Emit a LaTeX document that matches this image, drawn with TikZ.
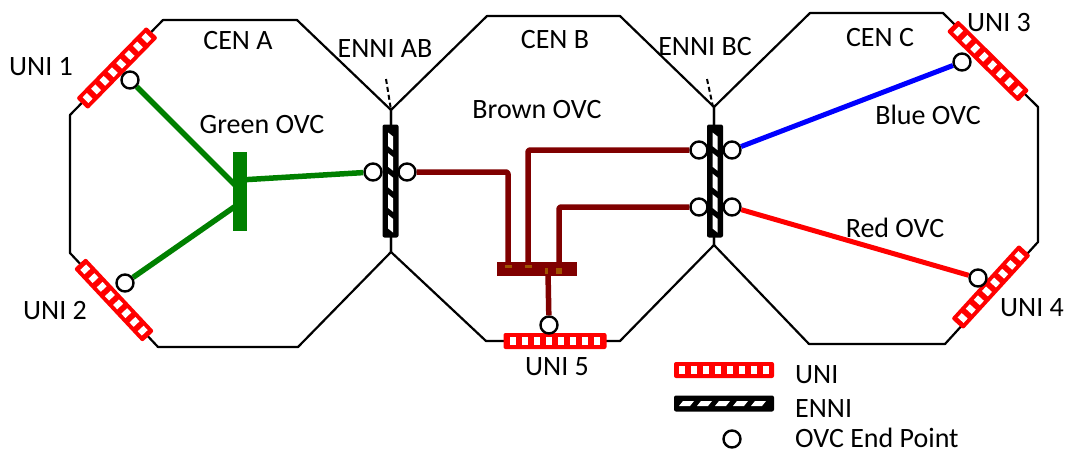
\documentclass[tikz,border=0pt]{standalone}
\usepackage{fontspec}
\setmainfont{Carlito}
\definecolor{ovcgreen}{RGB}{0,128,0}
\definecolor{ovcbrown}{RGB}{128,0,0}
\definecolor{ovcmark}{RGB}{160,82,0}
\newcommand\uniBox[4]{%
  \begin{scope}[shift={(#1,#2)},rotate=#3]
    \fill[red,rounded corners=2pt] (-#4/2,-8) rectangle (#4/2,8);
    \draw[white,line width=8pt,dash pattern=on 6pt off 6pt] (-45,0) -- (45,0);
  \end{scope}}
\newcommand\enniBox[4]{%
  \begin{scope}[shift={(#1,#2)},rotate=#3]
    \fill[black,rounded corners=2pt] (-#4/2,-8) rectangle (#4/2,8);
    \pgfmathsetmacro\enP{(#4-10)/5}
    \foreach \i in {0,...,4}{
      \pgfmathsetmacro\enS{-#4/2+5+\i*\enP}
      \fill[white] (\enS,2.5) -- ({\enS+\enP-7},2.5) -- ({\enS+\enP-3},-2.5) -- ({\enS+4},-2.5) -- cycle;
    }
  \end{scope}}
\begin{document}
\begin{tikzpicture}[x=1pt,y=-1pt,
  font=\fontsize{28}{32}\selectfont,
  oct/.style={draw=black,line width=2.2pt,line join=round},
  ep/.style={circle,draw=black,fill=white,line width=2.4pt,minimum size=17pt,inner sep=0pt},
  lbl/.style={inner sep=0pt},
  lgd/.style={inner sep=0pt,anchor=west},
  ovcline/.style={line width=5.5pt,line join=round,rounded corners=2pt},
  ennidash/.style={line width=2pt,dash pattern=on 5pt off 3pt}]
\useasboundingbox (0,0) rectangle (1065,455);
% octagons
\draw[oct] (163,20) -- (297,20) -- (391,110) -- (391,252) -- (298,347) -- (158,347) -- (70,253) -- (70,115) -- cycle;
\draw[oct] (487,16) -- (620,16) -- (714,107) -- (714,245) -- (620,341) -- (486,341) -- (391,252) -- (391,110) -- cycle;
\draw[oct] (810,13) -- (943,13) -- (1038,107) -- (1038,242) -- (945,344) -- (809,344) -- (714,245) -- (714,107) -- cycle;
% dashed ENNI pointers
\coordinate (abtop) at (386,79);
\coordinate (abv) at (391,110);
\coordinate (bctop) at (707,79);
\coordinate (bcv) at (713,107);
\draw[ennidash] (abtop) -- (abv);
\draw[ennidash] (bctop) -- (bcv);
% interfaces
\enniBox{390.5}{181}{90}{113}
\enniBox{715}{181}{90}{113}
\uniBox{117}{68}{45.6}{100}
\uniBox{114}{300}{-46.9}{100}
\uniBox{988}{61}{-44.7}{100}
\uniBox{991}{287}{47.6}{100}
\uniBox{555}{341}{0}{103}
% legend symbols
\uniBox{724}{370}{0}{100}
\enniBox{724}{403.5}{0}{100}
% end points
\node[ep] (u1e) at (130,80) {};
\node[ep] (u2e) at (125,283) {};
\node[ep] (abl) at (373,172) {};
\node[ep] (abr) at (407,172) {};
\node[ep] (bcl1) at (699,150) {};
\node[ep] (bcr1) at (732,150) {};
\node[ep] (bcl2) at (699,207) {};
\node[ep] (bcr2) at (732,207) {};
\node[ep] (u3e) at (962,62) {};
\node[ep] (u4e) at (978,278) {};
\node[ep] (u5e) at (549,325) {};
\node[ep] (lgep) at (732,439) {};
% green OVC
\node[fill=ovcgreen,minimum width=14pt,minimum height=79pt,inner sep=0pt] (gbar) at (240,191.5) {};
\coordinate (g1) at (240,190);
\coordinate (g2) at (240,203);
\coordinate (g3) at (240,180);
\draw[ovcgreen,ovcline] (u1e) -- (g1);
\draw[ovcgreen,ovcline] (u2e) -- (g2);
\draw[ovcgreen,ovcline] (g3) -- (abl);
% brown OVC
\node[fill=ovcbrown,minimum width=80pt,minimum height=14pt,inner sep=0pt] (bbar) at (537,269) {};
\coordinate (b1) at (508,266);
\coordinate (b2) at (528,266);
\coordinate (b3) at (559,266);
\coordinate (b4) at (548,272);
\draw[ovcbrown,ovcline] (abr) -| (b1);
\draw[ovcbrown,ovcline] (bcl1) -| (b2);
\draw[ovcbrown,ovcline] (bcl2) -| (b3);
\draw[ovcbrown,ovcline] (b4) -- (u5e);
\fill[ovcmark] (505,265) rectangle (512,268);
\fill[ovcmark] (525,265) rectangle (532,268);
\fill[ovcmark] (545,268) rectangle (548,274);
\fill[ovcmark] (556,268) rectangle (562,274);
% blue and red OVC
\draw[blue,line width=5pt] (bcr1) -- (u3e);
\draw[red,line width=5pt] (bcr2) -- (u4e);
% labels
\node[lbl] (tcena) at (238,41) {CEN A};
\node[lbl] (tcenb) at (555,40) {CEN B};
\node[lbl] (tcenc) at (880,38) {CEN C};
\node[lbl] (tab) at (385,49) {ENNI AB};
\node[lbl] (tbc) at (705,47) {ENNI BC};
\node[lbl] (tu1) at (41,67) {UNI 1};
\node[lbl] (tu2) at (55,311) {UNI 2};
\node[lbl] (tu3) at (999,23) {UNI 3};
\node[lbl] (tu4) at (1032,308) {UNI 4};
\node[lbl] (tu5) at (557,367) {UNI 5};
\node[lbl] (tgreen) at (262,125) {Green OVC};
\node[lbl] (tbrown) at (537,110) {Brown OVC};
\node[lbl] (tblue) at (928,115) {Blue OVC};
\node[lbl] (tred) at (895,228) {Red OVC};
\node[lgd] (lu) at (795,375) {UNI};
\node[lgd] (le) at (795,409) {ENNI};
\node[lgd] (lo) at (795,438) {OVC End Point};
\end{tikzpicture}
\end{document}
